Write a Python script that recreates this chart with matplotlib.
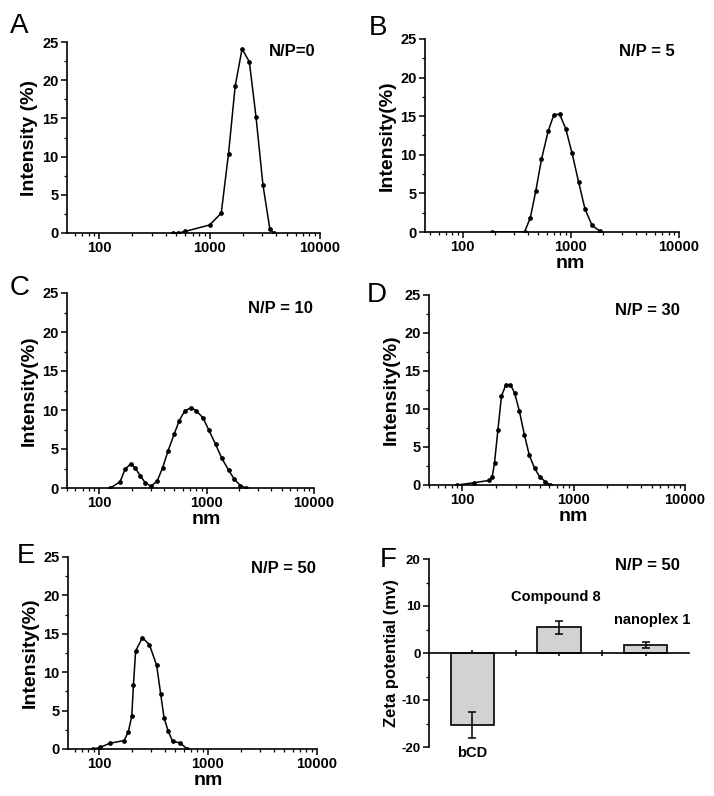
import numpy as np
import matplotlib
matplotlib.use("Agg")
import matplotlib.pyplot as plt
from matplotlib.ticker import FixedLocator, LogLocator, NullFormatter, FuncFormatter, MultipleLocator

plt.rcParams['font.family'] = ['Liberation Sans', 'DejaVu Sans']
plt.rcParams['font.weight'] = 'bold'
plt.rcParams['axes.unicode_minus'] = False

# ---------------- data ----------------
a_nm = [465, 518, 596, 1000, 1274, 1483, 1703, 1967, 2291, 2631, 3041, 3513, 3852]
a_int = [0, 0, 0.2, 1.05, 2.6, 10.4, 19.2, 24.1, 22.4, 15.2, 6.3, 0.5, 0]

b_nm = [186, 374, 423, 475, 536, 619, 699, 789, 898, 1028, 1180, 1352, 1572, 1866]
b_int = [0, 0, 1.85, 5.3, 9.4, 13.1, 15.2, 15.25, 13.4, 10.2, 6.5, 3.0, 0.85, 0.1]

c_nm = [127, 156, 174, 196, 215, 240, 267, 303, 346, 389, 438, 498, 554, 625, 721,
        802, 924, 1050, 1211, 1386, 1599, 1817, 2065, 2330]
c_int = [0, 0.8, 2.4, 3.1, 2.6, 1.6, 0.7, 0.2, 0.9, 2.6, 4.8, 6.9, 8.6, 9.9, 10.3,
         9.9, 9.0, 7.4, 5.6, 3.8, 2.3, 1.1, 0.3, 0]

d_nm = [90, 127, 173, 185, 194, 208, 224, 244, 270, 294, 325, 360, 399, 445, 494, 555, 615]
d_int = [0, 0.3, 0.6, 1.1, 2.9, 7.2, 11.7, 13.1, 13.2, 12.1, 9.7, 6.6, 3.9, 2.2, 1.1, 0.45, 0]

e_nm = [89, 102, 126, 170, 186, 200, 207, 217, 250, 290, 338, 368, 395, 432, 474, 553, 646]
e_int = [0, 0.2, 0.75, 1.1, 2.25, 4.3, 8.3, 12.75, 14.5, 13.6, 10.9, 7.2, 4.1, 2.3, 1.0, 0.8, 0]

f_names = ['bCD', 'Compound 8', 'nanoplex 1']
f_zeta = [-15.3, 5.5, 1.7]
f_err = [2.7, 1.4, 0.7]

panels = ['A', 'B', 'C', 'D', 'E', 'F']
np_labels = ['N/P=0', 'N/P = 5', 'N/P = 10', 'N/P = 30', 'N/P = 50', 'N/P = 50']

# ---------------- layout ----------------
W, H = 714, 796
fig = plt.figure(figsize=(W / 100, H / 100), dpi=100)

def box(l, r, t, b):
    return [l / W, 1 - b / H, (r - l) / W, (b - t) / H]

boxes = [box(67, 320, 42, 233), box(425, 679, 39, 232),
         box(67, 314, 293, 488), box(429, 685, 295, 485),
         box(68, 317, 557, 749), box(429, 689, 559, 747)]
xmins = [51, 45, 50, 50, 52]
ylabels = ['Intensity (%)', 'Intensity(%)', 'Intensity(%)', 'Intensity(%)', 'Intensity(%)']
show_nm = [False, True, True, True, True]
series = [(a_nm, a_int), (b_nm, b_int), (c_nm, c_int), (d_nm, d_int), (e_nm, e_int)]

for i in range(5):
    ax = fig.add_axes(boxes[i])
    x, y = series[i]
    ax.plot(x, y, color='black', lw=1.1, marker='o', ms=2.4, mfc='black', mec='black')
    ax.set_xscale('log')
    ax.set_xlim(xmins[i], 10000)
    ax.set_ylim(0, 25)
    for s in ['top', 'right']:
        ax.spines[s].set_visible(False)
    for s in ['left', 'bottom']:
        ax.spines[s].set_linewidth(1.2)
    ax.xaxis.set_major_locator(FixedLocator([100, 1000, 10000]))
    ax.xaxis.set_major_formatter(FuncFormatter(lambda v, p: '%d' % v))
    ax.xaxis.set_minor_locator(LogLocator(base=10, subs=np.arange(2, 10)))
    ax.xaxis.set_minor_formatter(NullFormatter())
    ax.yaxis.set_major_locator(MultipleLocator(5))
    ax.yaxis.set_minor_locator(MultipleLocator(2.5))
    ax.tick_params(which='major', length=4, width=1.1, labelsize=10.5, pad=2)
    ax.tick_params(which='minor', length=2.2, width=0.9)
    ax.set_ylabel(ylabels[i], fontsize=14, fontweight='bold', labelpad=3)
    if show_nm[i]:
        ax.set_xlabel('nm', fontsize=14, fontweight='bold')
        frac = (3 - np.log10(xmins[i])) / (4 - np.log10(xmins[i]))
        ax.xaxis.set_label_coords(frac, -0.12)

# bar panel
ax = fig.add_axes(boxes[5])
xpos = np.arange(1, len(f_names) + 1)
ax.bar(xpos, f_zeta, width=0.5, color='#d2d2d2', edgecolor='black', lw=1.2,
       yerr=f_err, capsize=3, error_kw=dict(lw=1.1, capthick=1.1, ecolor='black'), zorder=2)
ax.set_xlim(0.5, 3.5)
ax.set_ylim(-20, 20)
ax.spines['bottom'].set_position(('data', 0))
for s in ['top', 'right']:
    ax.spines[s].set_visible(False)
for s in ['left', 'bottom']:
    ax.spines[s].set_linewidth(1.2)
ax.set_xticks([1, 1.5, 2, 2.5, 3])
ax.set_xticklabels([])
ax.tick_params(axis='x', direction='inout', length=5, width=1.1)
ax.yaxis.set_major_locator(MultipleLocator(10))
ax.yaxis.set_minor_locator(MultipleLocator(5))
ax.tick_params(axis='y', which='major', length=4, width=1.1, labelsize=9.5, pad=2)
ax.tick_params(axis='y', which='minor', length=2.2, width=0.9)
ax.set_ylabel('Zeta potential (mv)', fontsize=12, fontweight='bold', labelpad=2)
name_pos = [(1.0, -21.2), (1.96, 12.0), (3.07, 7.0)]
for n, (px, py) in zip(f_names, name_pos):
    ax.text(px, py, n, ha='center', va='center', fontsize=10.5, fontweight='bold')

# panel letters and N/P labels (pixel positions)
letter_pos = [(10, 33), (369, 35), (10, 295), (367, 302), (17, 563), (380, 567)]
for L, (px, py) in zip(panels, letter_pos):
    fig.text(px / W, 1 - py / H, L, fontsize=20, fontweight='normal', ha='left', va='baseline')

np_pos = [(315, 56), (675, 56), (313, 313), (680, 315), (316, 573), (680, 570)]
for t, (px, py) in zip(np_labels, np_pos):
    fig.text(px / W, 1 - py / H, t, fontsize=12, fontweight='bold', ha='right', va='baseline')

fig.savefig('out.png', dpi=100)
